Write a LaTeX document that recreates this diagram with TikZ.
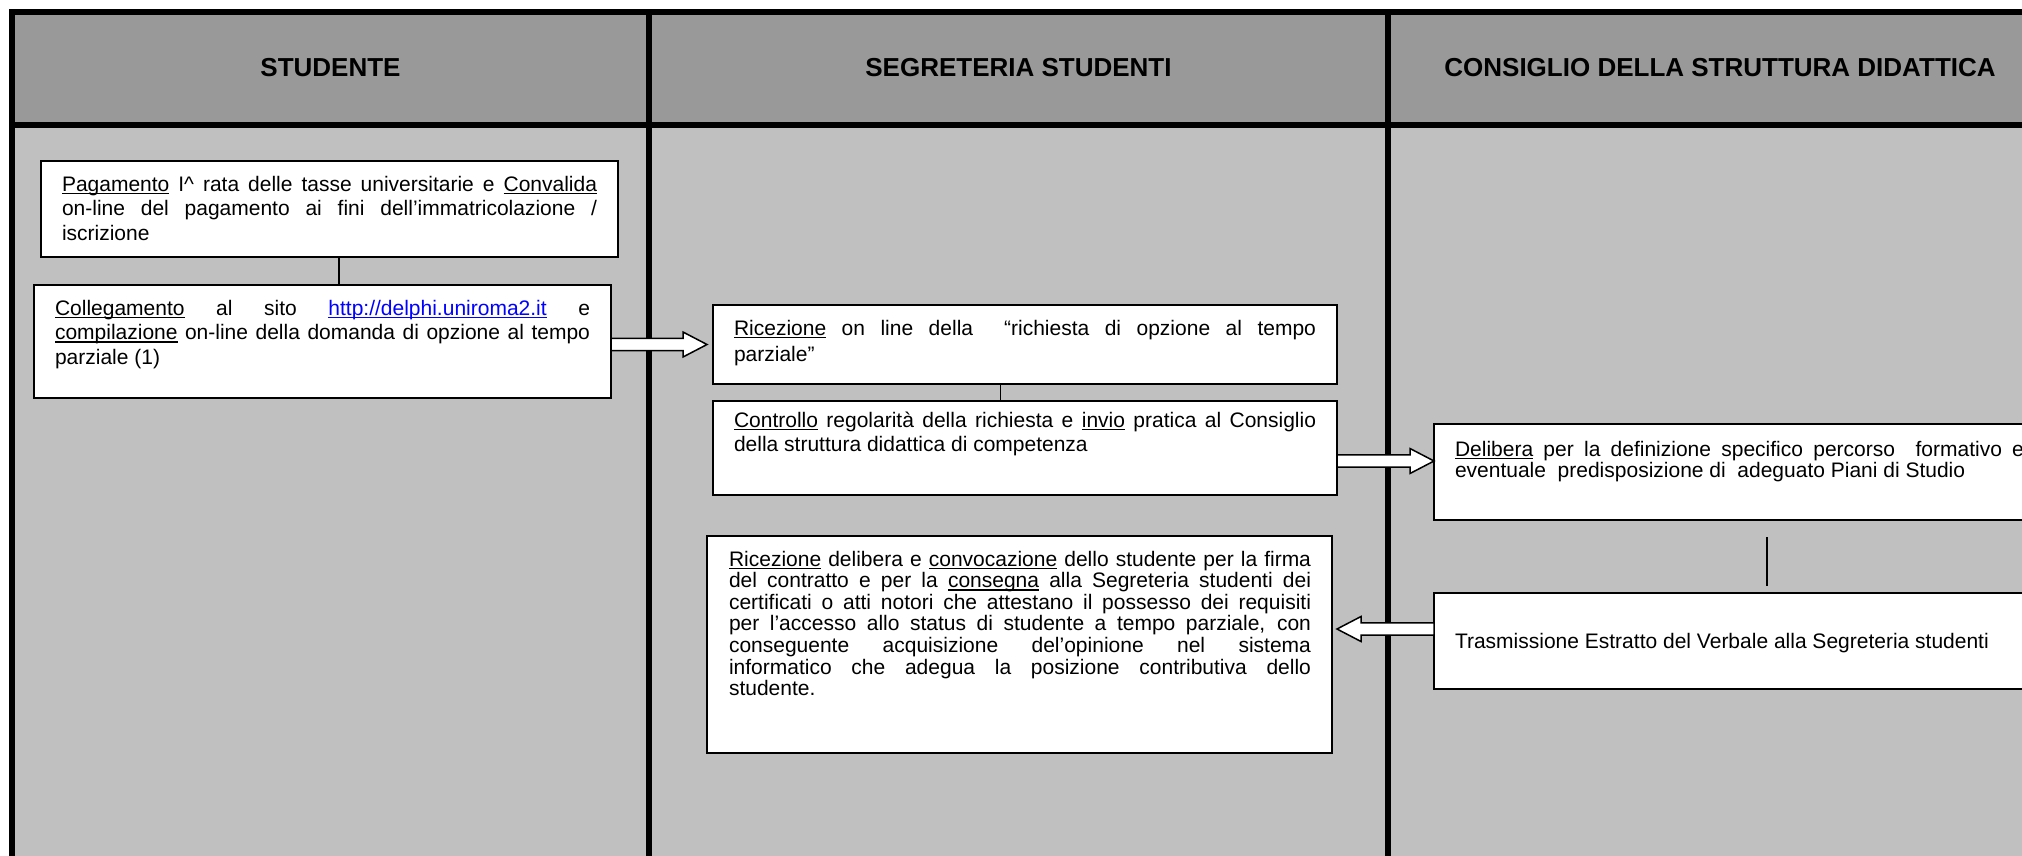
\documentclass[tikz,border=0pt]{standalone}
\usepackage{fontspec}
\setmainfont{Liberation Sans}
\usetikzlibrary{calc}
\definecolor{headgray}{RGB}{153,153,153}
\definecolor{bodygray}{RGB}{192,192,192}
\definecolor{urlblue}{RGB}{0,0,255}
\newcommand\undl[1]{\setbox0=\hbox{#1}\rlap{\rule[-3.2pt]{\wd0}{1.4pt}}\box0\relax}
\newcommand\Jline[1]{\hbox to\linewidth{#1}}
\newcommand\Lline[1]{\hbox{#1}}
\newcommand\bodyfont[1]{\fontsize{21pt}{#1pt}\selectfont}
\newcommand\harrow[2]{\draw[barrow] let \p1=(#1), \p2=(#2), \n1={sign(\x2-\x1)} in
  (\x1,\y1+6.2pt) -- (\x2-\n1*24pt,\y1+6.2pt) -- (\x2-\n1*24pt,\y1+12.5pt) -- (\x2,\y1)
  -- (\x2-\n1*24pt,\y1-12.5pt) -- (\x2-\n1*24pt,\y1-6.2pt) -- (\x1,\y1-6.2pt) -- cycle;}
\tikzset{
  frame/.style={line width=6pt, black},
  head/.style={font=\fontsize{26pt}{30pt}\selectfont\bfseries, inner sep=0pt, text=black},
  box/.style={draw=black, line width=2pt, fill=white, rectangle, inner sep=0pt, outer sep=0pt, anchor=north west},
  txt/.style={anchor=base west, inner sep=0pt, outer sep=0pt, text=black},
  conn/.style={line width=1.5pt, black},
  barrow/.style={draw=black, line width=1.5pt, fill=white, line join=miter}
}
\begin{document}
\begin{tikzpicture}[x=1pt, y=-1pt]
\useasboundingbox (0,0) rectangle (2022,855);
\clip (0,0) rectangle (2022,855);
\fill[white] (0,0) rectangle (2022,855);
% lanes
\fill[bodygray] (12,12) rectangle (2040,870);
\fill[headgray] (12,12) rectangle (2040,124.5);
\draw[frame] (2040,12) -- (12,12) -- (12,870);
\draw[frame] (12,124.5) -- (2040,124.5);
\draw[frame] (649,12) -- (649,870);
\draw[frame] (1388,12) -- (1388,870);
% headers
\node[head] (h1) at (330.5,67.5) {STUDENTE};
\node[head] (h2) at (1018.5,67.5) {SEGRETERIA STUDENTI};
\node[head] (h3) at (1720,67.5) {CONSIGLIO DELLA STRUTTURA DIDATTICA};
% boxes
\node[box, minimum width=577pt, minimum height=96pt] (b1) at (41,161) {};
\node[box, minimum width=577pt, minimum height=113pt] (b2) at (34,285) {};
\node[box, minimum width=624pt, minimum height=79pt] (b3) at (713,305) {};
\node[box, minimum width=624pt, minimum height=94pt] (b4) at (713,401) {};
\node[box, minimum width=625pt, minimum height=217pt] (b5) at (707,536) {};
\node[box, minimum width=611pt, minimum height=96pt] (del) at (1434,424) {};
\node[box, minimum width=611pt, minimum height=96pt] (tras) at (1434,593) {};
% thin connectors
\draw[conn] ($(b1.south)+(9.5pt,0pt)$) -- ($(b1.south |- b2.north)+(9.5pt,0pt)$);
\draw[conn] ($(b3.south)+(-24.5pt,0pt)$) -- ($(b3.south |- b4.north)+(-24.5pt,0pt)$);
\draw[conn] ($(del.south)+(27.5pt,-17pt)$) -- ($(del.south |- tras.north)+(27.5pt,7pt)$);
% texts
\node[txt] (b1t) at (62,191) {\parbox[t]{535pt}{\bodyfont{24.5}%
\Jline{\undl{Pagamento} I\textasciicircum{} rata delle tasse universitarie e \undl{Convalida}}
\Jline{on-line del pagamento ai fini dell’immatricolazione /}
\Lline{iscrizione}}};
\node[txt] (b2t) at (55,315) {\parbox[t]{535pt}{\bodyfont{24.5}%
\Jline{\undl{Collegamento} al sito \textcolor{urlblue}{\undl{http://delphi.uniroma2.it}} e}
\Jline{\undl{compilazione} on-line della domanda di opzione al tempo}
\Lline{parziale (1)}}};
\node[txt] (b3t) at (734,335) {\parbox[t]{582pt}{\bodyfont{26}%
\Jline{\undl{Ricezione} on line della\ \ “richiesta di opzione al tempo}
\Lline{parziale”}}};
\node[txt] (b4t) at (734,427) {\parbox[t]{582pt}{\bodyfont{24.5}%
\Jline{\undl{Controllo} regolarità della richiesta e \undl{invio} pratica al Consiglio}
\Lline{della struttura didattica di competenza}}};
\node[txt] (b5t) at (729,566) {\parbox[t]{582pt}{\bodyfont{21.6}%
\Jline{\undl{Ricezione} delibera e \undl{convocazione} dello studente per la firma}
\Jline{del contratto e per la \undl{consegna} alla Segreteria studenti dei}
\Jline{certificati o atti notori che attestano il possesso dei requisiti}
\Jline{per l’accesso allo status di studente a tempo parziale, con}
\Jline{conseguente acquisizione del’opinione nel sistema}
\Jline{informatico che adegua la posizione contributiva dello}
\Lline{studente.}}};
\node[txt] (delt) at (1455,456) {\parbox[t]{569pt}{\bodyfont{21.6}%
\Jline{\undl{Delibera} per la definizione specifico percorso\ \ formativo e}
\Lline{eventuale\ \ predisposizione di\ \ adeguato Piani di Studio}}};
\node[txt] (trast) at (1455,648) {\bodyfont{23}Trasmissione Estratto del Verbale alla Segreteria studenti};
% block arrows
\coordinate (a1s) at (b2.east |- b3.west);
\coordinate (a1e) at ($(b3.west)+(-6pt,0pt)$);
\coordinate (a2s) at ($(b4.east)+(0pt,-13pt)$);
\coordinate (a2e) at (a2s -| del.west);
\coordinate (a3s) at ($(tras.west)+(0pt,12pt)$);
\coordinate (a3e) at ($(a3s -| b5.east)+(5pt,0pt)$);
\harrow{a1s}{a1e}
\harrow{a2s}{a2e}
\harrow{a3s}{a3e}
\end{tikzpicture}
\end{document}
